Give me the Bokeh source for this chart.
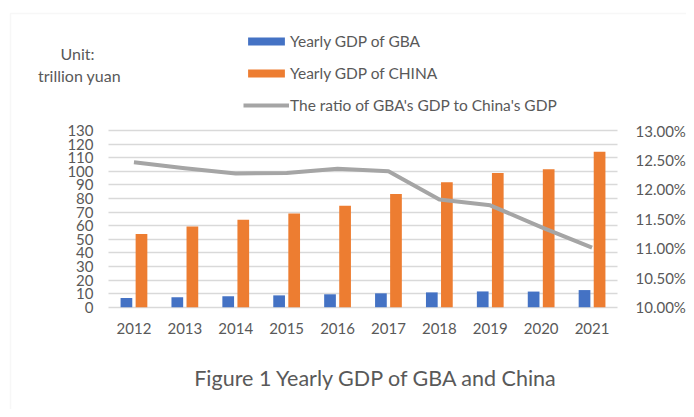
from bokeh.plotting import figure
from bokeh.models import (ColumnDataSource, Range1d, LinearAxis, FixedTicker,
                          PrintfTickFormatter, Legend, LegendItem, Label, BoxAnnotation)
from bokeh.transform import dodge
from bokeh.embed import file_html
from bokeh.resources import INLINE

years = [2012, 2013, 2014, 2015, 2016, 2017, 2018, 2019, 2020, 2021]
gdp_gba = [6.7, 7.3, 8.0, 8.7, 9.5, 10.2, 10.9, 11.6, 11.5, 12.6]
gdp_china = [53.9, 59.3, 64.4, 68.9, 74.6, 83.2, 91.9, 98.7, 101.4, 114.4]
ratio_pct = [12.46, 12.36, 12.27, 12.28, 12.35, 12.31, 11.83, 11.73, 11.36, 11.01]

left_ticks = [0, 10, 20, 30, 40, 50, 60, 70, 80, 90, 100, 110, 120, 130]
right_ticks = [10.0, 10.5, 11.0, 11.5, 12.0, 12.5, 13.0]

series_names = ["Yearly GDP of GBA", "Yearly GDP of CHINA", "The ratio of GBA's GDP to China's GDP"]
unit_lines = ["Unit:", "trillion yuan"]
title_text = "Figure 1 Yearly GDP of GBA and China"

BLUE = "#4472C4"
ORANGE = "#ED7D31"
GRAY = "#A5A5A5"
TEXT = "#595959"
GRID = "#D9D9D9"
FONT = "Lato"

# canvas / plot-area geometry (pixels)
W, H = 686, 409
AREA_L, AREA_R = 108, 617          # plot area left / right
AREA_T, AREA_B = 130, 306.7        # plot area top / bottom (from top)

n = len(years)
ppx = (AREA_R - AREA_L) / n                     # px per year
x0 = years[0] - 0.5 - AREA_L / ppx
x1 = years[-1] + 0.5 + (W - AREA_R) / ppx
ppy = (AREA_B - AREA_T) / left_ticks[-1]          # px per left unit
y0 = -(H - AREA_B) / ppy
y1 = AREA_B / ppy
k = (right_ticks[-1] - right_ticks[0]) / left_ticks[-1]
r0 = right_ticks[0] + y0 * k
r1 = right_ticks[0] + y1 * k

src = ColumnDataSource(dict(year=years, gba=gdp_gba, china=gdp_china, ratio=ratio_pct))

p = figure(width=W, height=H, x_range=Range1d(x0, x1), y_range=Range1d(y0, y1),
           output_backend="svg", toolbar_location=None,
           min_border=0, min_border_left=0, min_border_right=0, min_border_top=0, min_border_bottom=0)
p.outline_line_color = None
p.extra_y_ranges = {"ratio": Range1d(r0, r1)}

# grid
p.xgrid.visible = False
g = p.ygrid[0]
g.ticker = FixedTicker(ticks=left_ticks)
g.grid_line_color = GRID
g.grid_line_width = 1.5
if "cross_bounds" in g.properties():
    g.cross_bounds = (years[0] - 0.5, years[-1] + 0.5)

def style_axis(ax, standoff):
    ax.axis_line_color = None
    ax.major_tick_line_color = None
    ax.minor_tick_line_color = None
    ax.major_tick_out = 0
    ax.major_tick_in = 0
    ax.major_label_standoff = standoff
    ax.major_label_text_font = FONT
    ax.major_label_text_font_size = "15px"
    ax.major_label_text_color = TEXT

yax = p.yaxis[0]
yax.ticker = FixedTicker(ticks=left_ticks)
yax.fixed_location = years[0] - 0.5
style_axis(yax, 15)

rax = LinearAxis(y_range_name="ratio", ticker=FixedTicker(ticks=right_ticks),
                 formatter=PrintfTickFormatter(format="%.2f%%"))
rax.fixed_location = years[-1] + 0.5
style_axis(rax, 18)
p.add_layout(rax, "right")

xax = p.xaxis[0]
xax.ticker = FixedTicker(ticks=years)
xax.fixed_location = 0
style_axis(xax, 16)

r_gba = p.vbar(x=dodge("year", -0.148), top="gba", width=0.23, source=src,
               fill_color=BLUE, line_color=None)
r_china = p.vbar(x=dodge("year", 0.148), top="china", width=0.23, source=src,
                 fill_color=ORANGE, line_color=None)
r_ratio = p.line(x="year", y="ratio", source=src, y_range_name="ratio",
                 line_color=GRAY, line_width=4, line_join="round")

legend = Legend(items=[LegendItem(label=series_names[0], renderers=[r_gba]),
                       LegendItem(label=series_names[1], renderers=[r_china]),
                       LegendItem(label=series_names[2], renderers=[r_ratio])],
                location=(243, H - 114), orientation="vertical")
legend.glyph_width = 46
legend.glyph_height = 10
legend.label_height = 18
legend.label_standoff = 1
legend.spacing = 14
legend.padding = 0
legend.margin = 0
legend.border_line_color = None
legend.background_fill_alpha = 0
legend.label_text_font = FONT
legend.label_text_font_size = "15.5px"
legend.label_text_color = TEXT
p.add_layout(legend, "center")

for txt, xx, yy in [(unit_lines[0], 77, H - 53), (unit_lines[1], 79, H - 75)]:
    p.add_layout(Label(x=xx, y=yy, x_units="screen", y_units="screen", text=txt,
                       text_align="center", text_baseline="middle", text_font=FONT,
                       text_font_size="16px", text_color=TEXT))

p.add_layout(Label(x=376, y=H - 377, x_units="screen", y_units="screen", text=title_text,
                   text_align="center", text_baseline="middle", text_font=FONT,
                   text_font_size="21.5px", text_color=TEXT))

p.add_layout(BoxAnnotation(left=10, right=W + 20, top=H - 13, bottom=-20,
                           left_units="screen", right_units="screen",
                           top_units="screen", bottom_units="screen",
                           fill_alpha=0, line_color="#E3E3E3", line_width=1.5))

open("out.html", "w").write(file_html(p, INLINE))
